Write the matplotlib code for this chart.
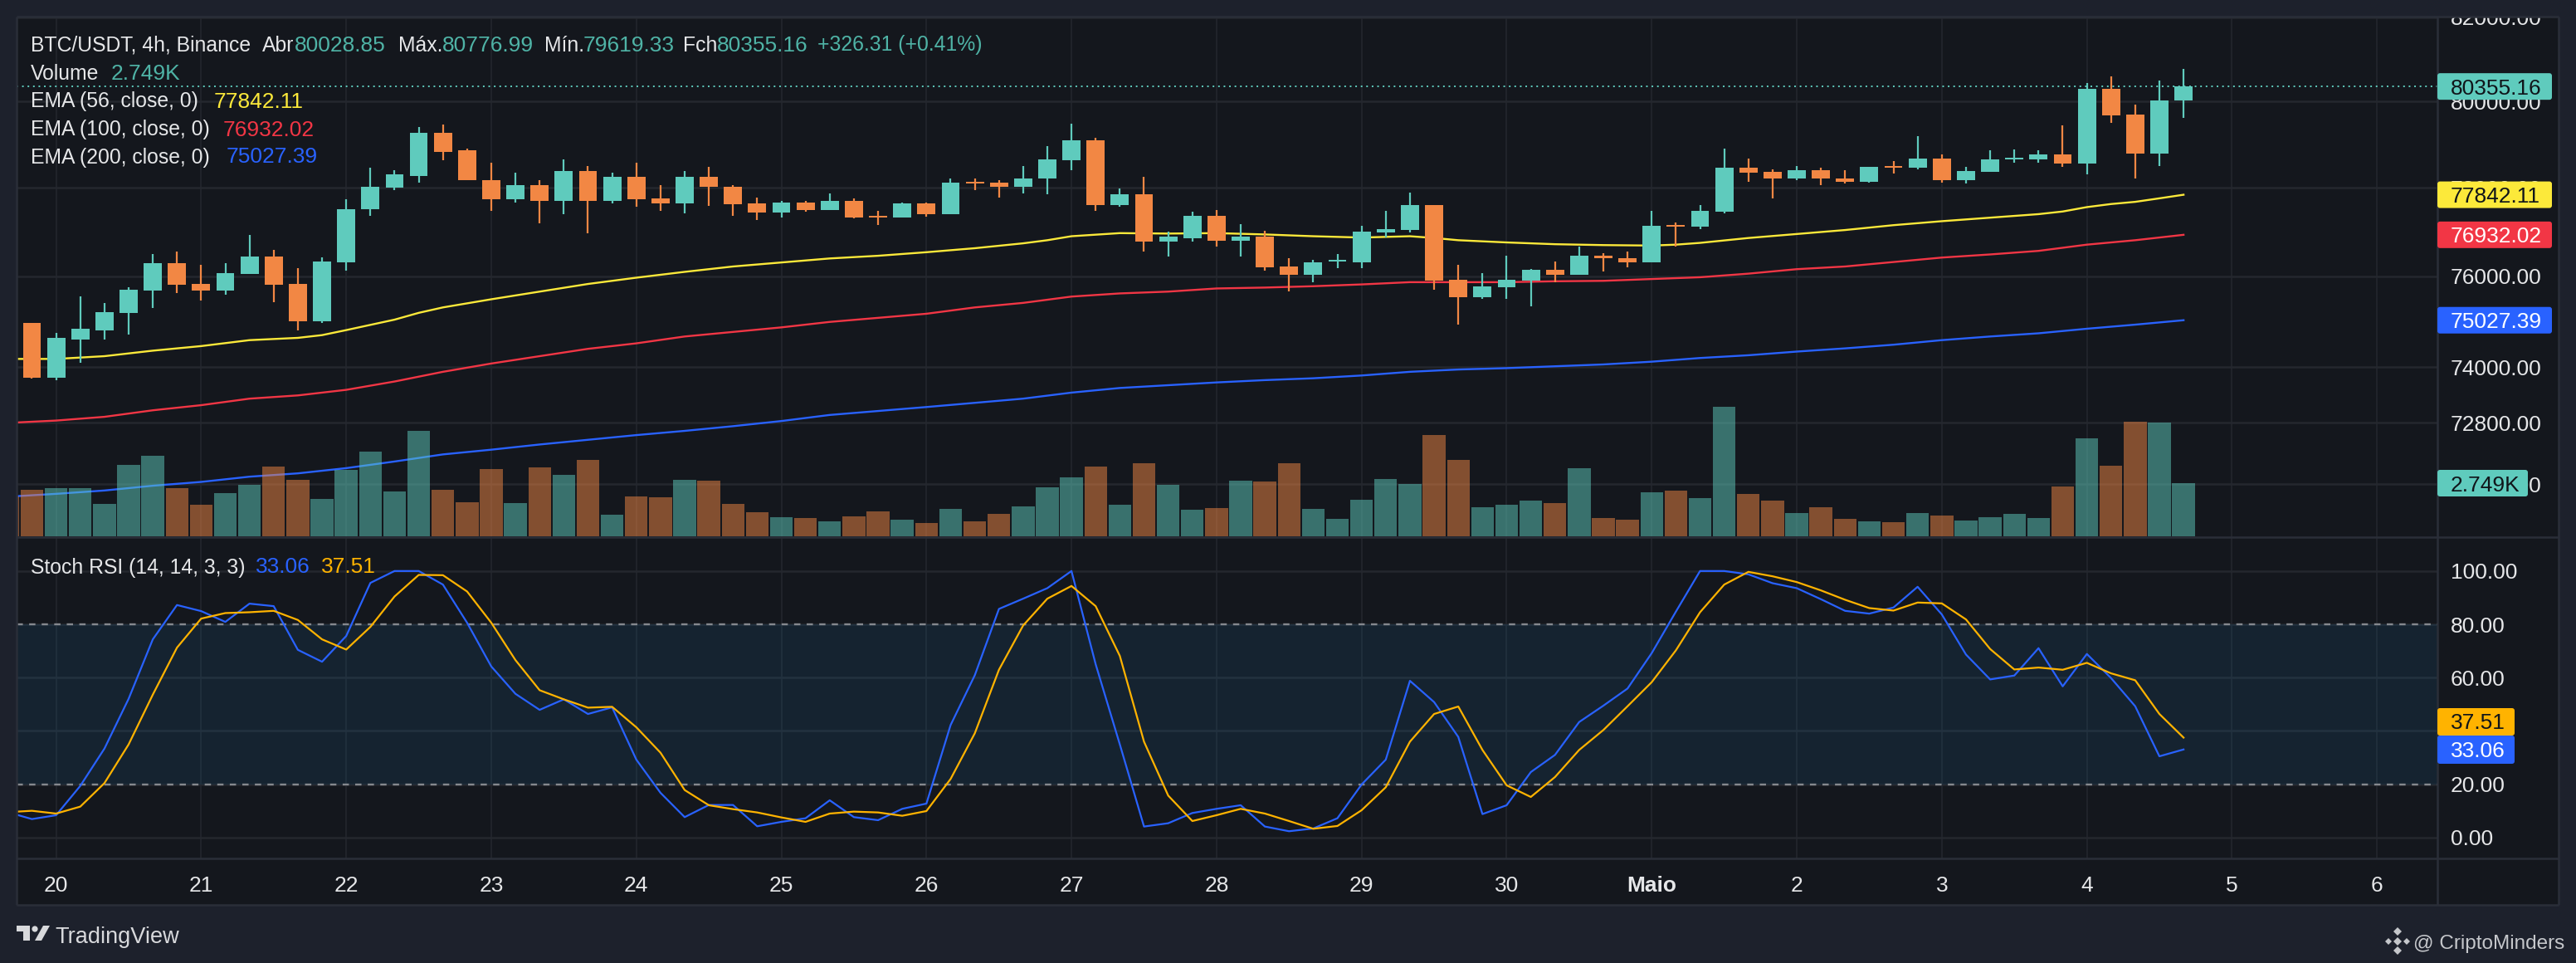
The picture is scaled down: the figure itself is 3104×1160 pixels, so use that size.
import numpy as np
import matplotlib
matplotlib.use("Agg")
from matplotlib import pyplot as plt
from matplotlib.patches import Rectangle, Polygon, Circle, FancyBboxPatch
from matplotlib.ticker import FixedLocator, NullLocator
from matplotlib.transforms import Bbox, TransformedBbox, IdentityTransform

plt.rcParams['font.family'] = ['Liberation Sans', 'DejaVu Sans']

W, H = 3104, 1160

# candles, one per 4h, bar 0 is the midnight of day 20
first_bar = -1
open_px = [74960, 73780, 74610, 74810, 75180, 75690, 76300, 75830, 75690, 76050,
           76450, 75830, 75000, 76320, 77510, 78000, 78280, 79270, 78860, 78180,
           77730, 78060, 77700, 78380, 77710, 78260, 77750, 77640, 78250, 78030,
           77640, 77430, 77670, 77490, 77700, 77360, 77320, 77640, 77400, 78130,
           78110, 78030, 78210, 78640, 79100, 77600, 77850, 76770, 76860, 77370,
           76790, 76890, 76220, 76040, 76330, 76320, 76980, 77040, 77600, 75920,
           75540, 75760, 75910, 76150, 76040, 76470, 76410, 76320, 77150, 77110,
           77450, 78460, 78360, 78220, 78400, 78220, 78130, 78510, 78470, 78680,
           78180, 78360, 78660, 78660, 78760, 78550, 80300, 79690, 78780, 80028.85]
high_px = [74960, 74740, 75560, 75400, 75760, 76500, 76560, 76260, 76300, 76920,
           76600, 76190, 76430, 77730, 78460, 78400, 79410, 79460, 78910, 78580,
           78340, 78180, 78660, 78510, 78340, 78580, 78060, 78380, 78490, 78070,
           77770, 77700, 77700, 77880, 77750, 77470, 77660, 77660, 78210, 78210,
           78180, 78510, 78970, 79480, 79160, 77980, 78260, 77000, 77450, 77490,
           77170, 77020, 76410, 76370, 76490, 77130, 77470, 77900, 77600, 76260,
           76070, 76470, 76170, 76340, 76670, 76510, 76560, 77470, 77210, 77600,
           78910, 78680, 78430, 78510, 78460, 78400, 78490, 78610, 79190, 78760,
           78490, 78860, 78890, 78860, 79440, 80430, 80600, 79920, 80500, 80776.99]
low_px = [73760, 73720, 74090, 74610, 74710, 75290, 75620, 75470, 75600, 76050,
          75430, 74810, 74960, 76130, 77370, 77940, 78110, 78640, 78170, 77470,
          77670, 77190, 77400, 76960, 77640, 77560, 77470, 77410, 77580, 77370,
          77260, 77320, 77450, 77490, 77300, 77150, 77320, 77340, 77400, 77940,
          77770, 77870, 77850, 78400, 77470, 77560, 76560, 76450, 76770, 76670,
          76440, 76130, 75670, 75870, 76190, 76190, 76880, 76980, 75710, 74940,
          75490, 75490, 75330, 75870, 76040, 76110, 76210, 76320, 76670, 77060,
          77410, 78130, 77750, 78170, 78060, 78100, 78110, 78320, 78420, 78110,
          78100, 78360, 78580, 78570, 78490, 78300, 79500, 78210, 78510, 79619.33]
close_px = [73780, 74640, 74840, 75200, 75710, 76300, 75820, 75690, 76070, 76450,
            75820, 75000, 76340, 77520, 78020, 78300, 79270, 78830, 78170, 77730,
            78060, 77700, 78380, 77710, 78260, 77730, 77640, 78250, 78020, 77620,
            77430, 77670, 77490, 77700, 77320, 77330, 77640, 77400, 78110, 78100,
            78030, 78220, 78660, 79100, 77600, 77850, 76770, 76890, 77370, 76790,
            76890, 76210, 76040, 76320, 76360, 77000, 77060, 77600, 75910, 75540,
            75780, 75920, 76150, 76040, 76470, 76400, 76320, 77130, 77110, 77470,
            78460, 78340, 78220, 78400, 78210, 78130, 78490, 78470, 78680, 78180,
            78380, 78660, 78700, 78760, 78550, 80300, 79670, 78780, 80020, 80355.16]

# volume starts one bar earlier, that bar is cut by the left edge
volume = [2080, 2406, 2496, 2496, 1682, 3708, 4179, 2496, 1646, 2243, 2677,
          3618, 2931, 1936, 3437, 4396, 2334, 5463, 2406, 1773, 3491,
          1719, 3564, 3184, 3962, 1122, 2062, 2026, 2931, 2876, 1682,
          1248, 995, 959, 778, 1031, 1302, 868, 687, 1429, 778,
          1158, 1556, 2533, 3057, 3618, 1646, 3781, 2677, 1375, 1465,
          2876, 2840, 3781, 1429, 905, 1899, 2967, 2714, 5246, 3962,
          1501, 1646, 1845, 1719, 3528, 959, 868, 2279, 2370, 1990,
          6711, 2189, 1845, 1212, 1501, 905, 778, 742, 1212, 1085,
          814, 995, 1158, 959, 2587, 5083, 3654, 5970, 5897, 2749]

ema56_x = [-2, 0, 2, 4, 6, 8, 10, 11, 12, 14, 15, 16, 18, 20, 22, 24, 26, 28, 30, 32,
           34, 36, 38, 40, 41, 42, 44, 46, 48, 50, 52, 54, 56, 57, 58, 60, 62, 64, 66,
           67, 68, 70, 72, 74, 76, 78, 80, 82, 83, 84, 85, 86, 87, 88]
ema56 = [74180, 74180, 74240, 74360, 74460, 74590, 74640, 74700, 74810, 75040, 75190,
         75310, 75490, 75660, 75830, 75970, 76100, 76220, 76310, 76400, 76460, 76540,
         76630, 76740, 76810, 76900, 76970, 76960, 76970, 76940, 76900, 76870, 76900,
         76860, 76810, 76760, 76720, 76700, 76690, 76710, 76750, 76860, 76950, 77040,
         77150, 77240, 77320, 77400, 77460, 77560, 77630, 77680, 77760, 77842.11]

ema_x = [-2, 0, 2, 4, 6, 8, 10, 12, 14, 16, 18, 20, 22, 24, 26, 28, 30, 32, 36, 38, 40,
         42, 44, 46, 48, 50, 52, 54, 56, 58, 60, 62, 64, 66, 68, 70, 72, 74, 76, 78, 80,
         82, 84, 86, 88]
ema100 = [72800, 72850, 72930, 73070, 73180, 73320, 73390, 73510, 73690, 73900, 74080,
          74240, 74400, 74520, 74670, 74770, 74870, 74990, 75170, 75310, 75410, 75550,
          75620, 75660, 75730, 75750, 75780, 75820, 75870, 75870, 75870, 75890, 75900,
          75940, 75980, 76060, 76160, 76220, 76320, 76420, 76490, 76570, 76710, 76810,
          76932.02]
ema200 = [71240, 71300, 71370, 71470, 71550, 71660, 71730, 71840, 71980, 72130, 72230,
          72340, 72440, 72540, 72630, 72730, 72840, 72970, 73140, 73230, 73320, 73450,
          73550, 73610, 73670, 73720, 73760, 73820, 73900, 73950, 73980, 74020, 74060,
          74120, 74200, 74260, 74340, 74410, 74490, 74590, 74670, 74740, 74840, 74930,
          75027.39]

stoch_x = [-2] + list(range(-1, 89))
stoch_k = [9.54, 6.95, 8.40, 19.40, 33.40, 52.07, 74.37, 87.24, 84.96, 80.91, 87.76,
           86.82, 70.43, 65.97, 75.62, 95.54, 100, 100, 94.91, 80.60, 64.21, 53.94,
           47.92, 51.87, 46.37, 48.86, 29.25, 16.80, 7.68, 12.24, 12.24, 4.25, 5.91,
           7.26, 14.00, 7.68, 6.54, 10.79, 12.76, 42.22, 60.89, 85.78, 89.62, 93.56,
           100, 65.04, 34.96, 4.15, 5.39, 9.23, 10.79, 12.14, 4.15, 2.39, 3.42, 7.26,
           19.92, 29.25, 58.81, 50.83, 37.76, 8.82, 12.14, 24.58, 31.02, 43.36, 49.48,
           55.91, 69.19, 84.75, 100, 100, 98.75, 95.43, 93.56, 89.42, 85.06, 84.02,
           86.30, 94.08, 83.71, 68.67, 59.33, 60.79, 71.06, 56.74, 68.88, 59.85, 49.27,
           30.50, 33.06]
stoch_d = [9.54, 10.06, 9.02, 11.62, 20.44, 34.96, 53.63, 71.26, 82.15, 84.23, 84.54,
           85.06, 81.64, 74.37, 70.54, 79.04, 90.45, 98.54, 98.44, 92.32, 80.60, 66.59,
           55.29, 51.87, 48.75, 49.06, 41.39, 31.85, 17.84, 12.14, 10.68, 9.44, 7.57,
           5.91, 9.02, 9.75, 9.44, 8.19, 9.96, 21.99, 39.11, 62.96, 79.56, 89.62,
           94.39, 86.82, 68.15, 35.99, 15.77, 6.22, 8.40, 10.79, 9.02, 6.22, 3.32, 4.36,
           10.27, 18.88, 35.99, 46.37, 49.17, 32.88, 19.61, 15.25, 22.72, 32.88, 40.35,
           49.27, 58.30, 70.23, 84.54, 94.91, 99.68, 98.02, 95.85, 92.73, 89.21, 86.10,
           85.16, 88.17, 87.86, 81.84, 70.74, 63.07, 63.79, 62.96, 65.56, 61.62, 59.02,
           46.37, 37.51]

day_labels = ['20', '21', '22', '23', '24', '25', '26', '27', '28', '29', '30', 'Maio',
              '2', '3', '4', '5', '6']
price_ticks = [82000, 80000, 78000, 76000, 74000, 72800, 71500]
stoch_ticks = [0, 20, 40, 60, 80, 100]

OUTER = '#1d212c'
PANE = '#14171d'
GRID = '#24272e'
BORDER = '#2a2e38'
TEXT = '#e6e7e9'
UP = '#5fcbbd'
DOWN = '#f28744'
UP_TXT = '#4fb3a6'
YELLOW = '#fce93a'
RED = '#f23645'
BLUE = '#2962ff'
AMBER = '#ffb300'
FS = 19
FS_LABEL = 17.8


def pane_rect(x0, y0, x1, y1):
    # pixels from the top left of the picture to figure fractions
    return [x0 / W, 1 - y1 / H, (x1 - x0) / W, (y1 - y0) / H]


fig = plt.figure(figsize=(W / 100, H / 100), dpi=100, facecolor=OUTER)

back = fig.add_axes([0, 0, 1, 1], zorder=0)
back.set_xlim(0, W)
back.set_ylim(H, 0)
back.axis('off')
back.add_patch(Rectangle((20, 20), 3063, 1070, fc=PANE, ec='none'))

bars = np.arange(first_bar, first_bar + len(close_px))
open_arr, close_arr = np.array(open_px), np.array(close_px)
is_up = close_arr >= open_arr
candle_colors = np.where(is_up, UP, DOWN)
x_lim = (-1.634, 98.5)
day_ticks = list(range(0, 97, 6))

# price pane
ax = fig.add_axes(pane_rect(20, 21, 2937, 647), zorder=1)
ax.patch.set_visible(False)
ax.set_yscale('log')
ax.set_xlim(*x_lim)
ax.set_ylim(70400, 81982)
ax.yaxis.set_major_locator(FixedLocator(price_ticks))
ax.set_yticks(price_ticks, ['%.2f' % t for t in price_ticks])
ax.yaxis.set_minor_locator(NullLocator())
ax.set_xticks(day_ticks)
ax.tick_params(axis='x', length=0, labelbottom=False)
ax.tick_params(axis='y', length=0, labelleft=False, labelright=True, pad=11.5,
               labelsize=FS, labelcolor=TEXT)
ax.grid(True, axis='y', color=GRID, lw=1.8, zorder=0)
ax.grid(True, axis='x', color=GRID, lw=1.1, zorder=0)
ax.set_axisbelow(True)
for s in ax.spines.values():
    s.set_visible(False)

ax.plot(ema56_x, ema56, color=YELLOW, lw=1.7, zorder=2)
ax.plot(ema_x, ema100, color=RED, lw=1.7, zorder=2)
ax.plot(ema_x, ema200, color=BLUE, lw=1.7, zorder=2)
ax.axhline(close_px[-1], color=UP, lw=1.4, ls=(0, (1, 2.4)), zorder=2)

ax.vlines(bars, low_px, high_px, colors=candle_colors, lw=1.6, zorder=3)
ax.bar(bars, np.abs(close_arr - open_arr), bottom=np.minimum(open_arr, close_arr),
       width=0.75, color=candle_colors, zorder=4)

# the top tick sits half outside the pane and gets cut
pane_box = TransformedBbox(Bbox([[2937, 0], [3083, 1140]]), IdentityTransform())
for lab in ax.yaxis.get_ticklabels():
    lab.set_clip_on(True)
    lab.set_clip_box(pane_box)

# volume on top of the price pane, half transparent
ax_vol = fig.add_axes(pane_rect(20, 21, 2937, 646), zorder=2)
ax_vol.patch.set_visible(False)
ax_vol.set_xlim(*x_lim)
ax_vol.set_ylim(0, 26950)
ax_vol.axis('off')
vol_bars = np.arange(first_bar - 1, first_bar - 1 + len(volume))
vol_colors = [DOWN] + list(candle_colors)
ax_vol.bar(vol_bars, volume, width=0.94, color=vol_colors, alpha=0.5)

# stoch rsi pane
ax2 = fig.add_axes(pane_rect(20, 648, 2937, 1034), zorder=1)
ax2.patch.set_visible(False)
ax2.set_xlim(*x_lim)
ax2.set_ylim(-7.8, 112.4)
ax2.set_yticks(stoch_ticks, ['%.2f' % t for t in stoch_ticks])
ax2.set_xticks(day_ticks, day_labels)
ax2.tick_params(axis='y', length=0, labelleft=False, labelright=True, pad=11.5,
                labelsize=FS, labelcolor=TEXT)
ax2.tick_params(axis='x', length=0, pad=15, labelsize=FS, labelcolor=TEXT)
ax2.get_xticklabels()[day_labels.index('Maio')].set_fontweight('bold')
ax2.grid(True, axis='y', color=GRID, lw=1.8)
ax2.grid(True, axis='x', color=GRID, lw=1.1)
ax2.set_axisbelow(True)
for s in ax2.spines.values():
    s.set_visible(False)
ax2.axhspan(20, 80, color='#1b6ea2', alpha=0.15, lw=0, zorder=1)
for lev in (20, 80):
    ax2.axhline(lev, color='#85888e', lw=1.7, ls=(0, (3.2, 3.2)), zorder=2)
ax2.plot(stoch_x, stoch_k, color=BLUE, lw=1.6, zorder=3)
ax2.plot(stoch_x, stoch_d, color=AMBER, lw=1.6, zorder=4)

# labels, tags and logos go on a top layer in picture pixels
top = fig.add_axes([0, 0, 1, 1], zorder=5)
top.set_xlim(0, W)
top.set_ylim(H, 0)
top.axis('off')
top.patch.set_visible(False)

for seg in ([(20, 20), (3083, 20)], [(20, 20), (20, 1090)], [(3083, 20), (3083, 1090)],
            [(20, 1090), (3083, 1090)], [(20, 647), (3083, 647)], [(20, 1034), (3083, 1034)],
            [(2937, 20), (2937, 1090)]):
    top.plot(*zip(*seg), color=BORDER, lw=1.8, solid_capstyle='butt')


def head(x, y, s, c=TEXT, size=FS_LABEL):
    top.text(x, y, s, color=c, fontsize=size, ha='left', va='center_baseline')


head(37, 52, 'BTC/USDT, 4h, Binance')
head(316, 52, 'Abr')
head(355, 52, '80028.85', UP_TXT, FS)
head(480, 52, 'Máx.')
head(533, 52, '80776.99', UP_TXT, FS)
head(656, 52, 'Mín.')
head(703, 52, '79619.33', UP_TXT, FS)
head(823, 52, 'Fch')
head(864, 52, '80355.16', UP_TXT, FS)
head(985, 52, '+326.31 (+0.41%)', UP_TXT)
head(37, 86, 'Volume')
head(134, 86, '2.749K', UP_TXT, FS)
head(37, 120, 'EMA (56, close, 0)')
head(258, 120, '77842.11', YELLOW, FS)
head(37, 154, 'EMA (100, close, 0)')
head(269, 154, '76932.02', RED, FS)
head(37, 187, 'EMA (200, close, 0)')
head(273, 187, '75027.39', BLUE, FS)
head(37, 681, 'Stoch RSI (14, 14, 3, 3)')
head(308, 681, '33.06', BLUE, FS)
head(387, 681, '37.51', AMBER, FS)


def tag(axis, value, s, fc, tc, right):
    y_disp = axis.transData.transform((0, value))[1]
    y = H - y_disp
    top.add_patch(FancyBboxPatch((2937, y - 16), right - 2937, 32,
                                 boxstyle='round,pad=0,rounding_size=3', fc=fc, ec='none', zorder=6))
    top.text(2953, y, s, color=tc, fontsize=FS, ha='left', va='center_baseline', zorder=7)


tag(ax, close_px[-1], '80355.16', UP, '#10151a', 3075)
tag(ax, ema56[-1], '77842.11', YELLOW, '#10151a', 3075)
tag(ax, ema100[-1], '76932.02', RED, '#ffffff', 3075)
tag(ax, ema200[-1], '75027.39', BLUE, '#ffffff', 3075)
top.add_patch(FancyBboxPatch((2937, 566), 109, 32, boxstyle='round,pad=0,rounding_size=3',
                             fc=UP, ec='none', zorder=6))
top.text(2953, 582, '2.749K', color='#10151a', fontsize=FS, ha='left', va='center_baseline', zorder=7)
top.add_patch(FancyBboxPatch((2937, 853), 93, 33, boxstyle='round,pad=0,rounding_size=3',
                             fc=AMBER, ec='none', zorder=6))
top.text(2953, 869, '37.51', color='#10151a', fontsize=FS, ha='left', va='center_baseline', zorder=7)
top.add_patch(FancyBboxPatch((2937, 886), 93, 34, boxstyle='round,pad=0,rounding_size=3',
                             fc=BLUE, ec='none', zorder=6))
top.text(2953, 903, '33.06', color='#ffffff', fontsize=FS, ha='left', va='center_baseline', zorder=7)

# tradingview mark
LOGO = '#d8d9dc'
top.add_patch(Polygon([(20, 1115), (36, 1115), (36, 1133), (28, 1133), (28, 1122), (20, 1122)], fc=LOGO, ec='none'))
top.add_patch(Circle((42, 1119), 3.6, fc=LOGO, ec='none'))
top.add_patch(Polygon([(52, 1115), (60, 1115), (50, 1133), (42, 1133)], fc=LOGO, ec='none'))
top.text(66, 1126, 'TradingView', color=LOGO, fontsize=19.5, ha='left', va='center_baseline')

# binance style mark and signature
GREY = '#c5c7cb'
for cx, cy, r in ((2889, 1122, 5), (2878, 1134, 4), (2900, 1134, 4), (2889, 1134, 5), (2889, 1145, 5)):
    top.add_patch(Polygon([(cx, cy - r), (cx + r, cy), (cx, cy + r), (cx - r, cy)], fc=GREY, ec='none'))
top.text(2908, 1134, '@ CriptoMinders', color=GREY, fontsize=17.5, ha='left', va='center_baseline')

fig.savefig('out.png', dpi=100, facecolor=OUTER)
